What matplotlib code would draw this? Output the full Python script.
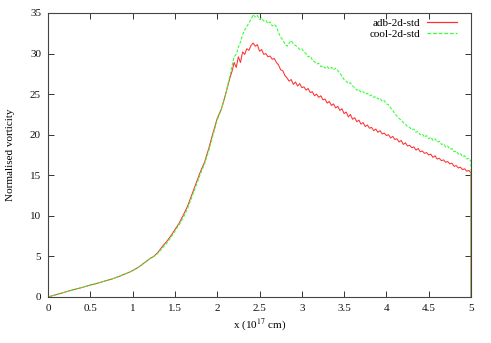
import numpy as np
import matplotlib
matplotlib.use("Agg")
import matplotlib.pyplot as plt

# tramo de subida, paso 0.05 (x = 0 .. 2.15)
x_subida = np.round(np.arange(0, 2.151, 0.05), 3)
adb_subida = [0.0, 0.15, 0.3, 0.45, 0.6, 0.75, 0.9, 1.03, 1.17, 1.32,
              1.47, 1.6, 1.75, 1.9, 2.05, 2.2, 2.38, 2.58, 2.8, 3.0,
              3.25, 3.55, 3.9, 4.3, 4.7, 5.0, 5.5, 6.2, 6.8, 7.5,
              8.3, 9.1, 10.1, 11.2, 12.6, 14.0, 15.4, 16.6, 18.3, 20.2,
              22.0, 23.2, 25.0, 27.0]
cool_subida = [0.0, 0.15, 0.3, 0.45, 0.6, 0.75, 0.9, 1.03, 1.17, 1.32,
               1.47, 1.6, 1.75, 1.9, 2.05, 2.2, 2.38, 2.58, 2.8, 3.0,
               3.25, 3.55, 3.9, 4.3, 4.7, 5.0, 5.4, 6.0, 6.6, 7.3,
               8.1, 8.9, 9.8, 10.9, 12.3, 13.7, 15.1, 16.4, 18.0, 19.9,
               21.8, 23.1, 25.0, 27.3]

# tramo ruidoso, paso 0.025 (x = 2.175 .. 5.0)
adb_pico = [27.8, 28.9, 28.3, 29.6, 28.9, 30.2, 29.9, 30.6, 30.4, 31.0,
            31.3, 30.9, 31.1, 30.3, 30.5, 29.9, 30.0, 29.6, 29.7, 29.3,
            29.4, 28.9, 28.6, 28.0, 27.9, 27.3, 27.0, 26.6, 26.8, 26.2,
            26.5, 26.0, 26.3, 25.8, 25.9, 25.5, 25.7, 25.2, 25.3, 24.8,
            25.0, 24.6, 24.8, 24.3, 24.4, 23.9, 24.1, 23.6, 23.8, 23.3,
            23.5, 23.0, 23.2, 22.6, 22.8, 22.2, 22.5, 21.9, 22.1, 21.6,
            21.8, 21.3, 21.5, 21.0, 21.2, 20.8, 20.9, 20.5, 20.7, 20.3,
            20.5, 20.1, 20.2, 19.9, 20.0, 19.6, 19.8, 19.4, 19.5, 19.1,
            19.3, 18.8, 19.0, 18.6, 18.7, 18.4, 18.5, 18.1, 18.3, 17.9,
            18.0, 17.7, 17.8, 17.5, 17.6, 17.2, 17.4, 17.0, 17.1, 16.8,
            16.9, 16.6, 16.7, 16.4, 16.5, 16.1, 16.2, 15.9, 16.0, 15.7,
            15.8, 15.5, 15.6, 15.3]
cool_pico = [28.4, 29.6, 29.9, 30.8, 31.4, 32.3, 32.9, 33.3, 33.8, 34.2,
             34.8, 34.5, 34.7, 34.2, 34.4, 34.0, 34.1, 33.7, 33.9, 33.4,
             33.6, 33.3, 32.6, 32.0, 31.7, 31.2, 30.9, 31.3, 31.6, 31.2,
             31.0, 30.8, 30.5, 30.6, 30.2, 30.0, 29.6, 29.7, 29.2, 29.0,
             28.7, 28.8, 28.4, 28.5, 28.2, 28.4, 28.1, 28.3, 28.0, 28.2,
             27.9, 27.6, 27.2, 26.8, 26.6, 26.3, 26.4, 26.0, 25.8, 25.5,
             25.6, 25.2, 25.3, 25.0, 25.1, 24.8, 24.9, 24.6, 24.7, 24.4,
             24.5, 24.1, 24.2, 23.8, 23.7, 23.3, 23.0, 22.6, 22.3, 22.0,
             21.8, 21.5, 21.3, 21.0, 20.9, 20.6, 20.7, 20.3, 20.4, 20.0,
             20.1, 19.7, 19.9, 19.5, 19.7, 19.3, 19.5, 19.1, 19.2, 18.8,
             18.9, 18.5, 18.6, 18.2, 18.3, 17.9, 18.0, 17.6, 17.7, 17.3,
             17.4, 17.0, 17.1, 16.7]
x_pico = np.round(2.175 + 0.025 * np.arange(len(adb_pico)), 3)

# ultimo punto: caida a cero en el borde x = 5
x_fin = [5.0]
y_fin = [0.0]

x_ticks = [0, 0.5, 1, 1.5, 2, 2.5, 3, 3.5, 4, 4.5, 5]
x_tick_labels = ["0", "0.5", "1", "1.5", "2", "2.5", "3", "3.5", "4", "4.5", "5"]
y_ticks = [0, 5, 10, 15, 20, 25, 30, 35]

x_adb = np.concatenate([x_subida, x_pico, x_fin])
y_adb = np.concatenate([adb_subida, adb_pico, y_fin])
x_cool = np.concatenate([x_subida, x_pico, x_fin])
y_cool = np.concatenate([cool_subida, cool_pico, y_fin])

plt.rcParams['font.family'] = ['Liberation Serif', 'DejaVu Serif']
plt.rcParams['font.size'] = 8
plt.rcParams['mathtext.fontset'] = 'stix'

fig = plt.figure(figsize=(4.91, 3.43), dpi=100)
ax = fig.add_axes([48 / 491, 46 / 343, 423 / 491, 284 / 343])

ax.plot(x_adb, y_adb, color='#ff3030', lw=0.75, label='adb-2d-std')
ax.plot(x_cool, y_cool, color='#30ff30', lw=0.75, ls=(0, (3, 1.5)), label='cool-2d-std')

ax.set_xlim(0, 5)
ax.set_ylim(0, 35)
ax.set_xticks(x_ticks)
ax.set_xticklabels(x_tick_labels)
ax.set_yticks(y_ticks)
ax.tick_params(direction='in', length=4, width=0.7, top=True, right=True,
               color='#333333', labelcolor='#111111')
ax.tick_params(axis='x', pad=5)
ax.tick_params(axis='y', pad=5)
for s in ax.spines.values():
    s.set_linewidth(0.8)
    s.set_color('#444444')

ax.set_xlabel(r'x (10$^{17}$ cm)', labelpad=2)
ax.set_ylabel('Normalised vorticity', labelpad=11)

leg = ax.legend(loc='upper right', bbox_to_anchor=(0.98, 1.0), frameon=False,
                markerfirst=False, handlelength=2.7, labelspacing=0.05,
                handletextpad=0.6, borderaxespad=0.1, fontsize=8)
for h in leg.get_lines():
    h.set_linewidth(0.9)

fig.savefig('out.png', dpi=100)
